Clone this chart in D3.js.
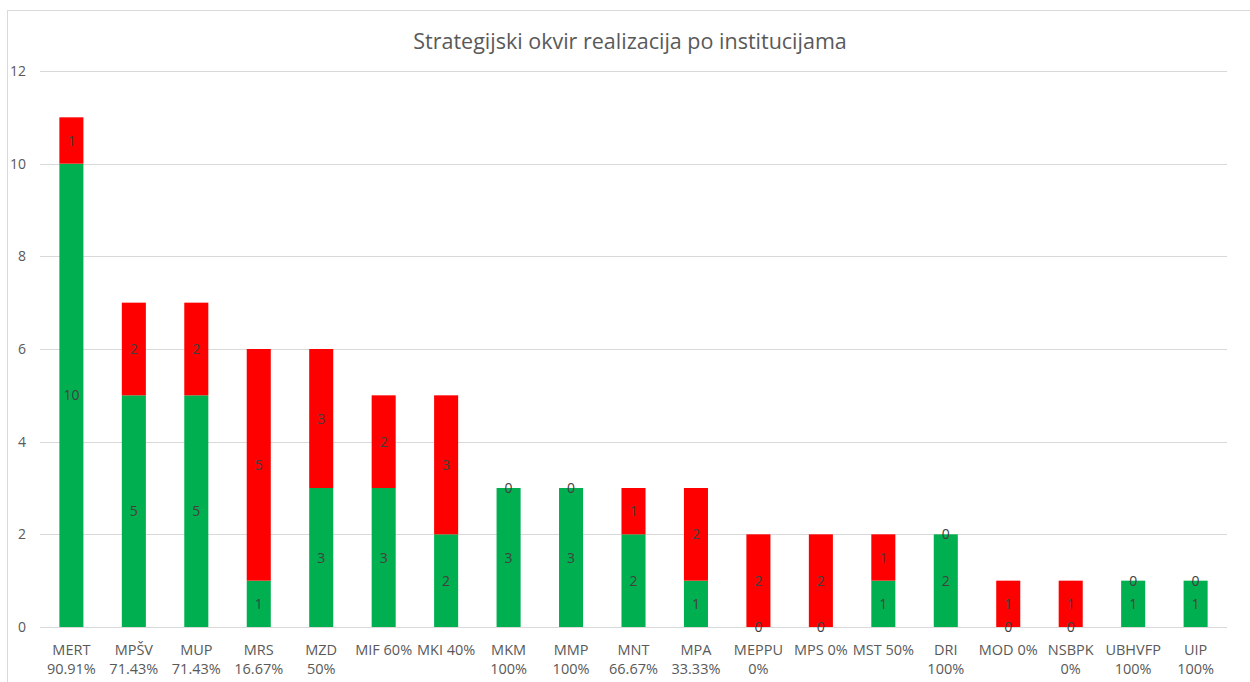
<!DOCTYPE html>
<html><head><meta charset="utf-8">
<script src="https://cdn.jsdelivr.net/npm/d3@7"></script>
<style>body{margin:0;background:#fff}svg{display:block}</style>
</head><body>
<script>
const categories = [
  ["MERT","90.91%"],["MPŠV","71.43%"],["MUP","71.43%"],["MRS","16.67%"],["MZD","50%"],
  ["MIF 60%"],["MKI 40%"],["MKM","100%"],["MMP","100%"],["MNT","66.67%"],["MPA","33.33%"],
  ["MEPPU","0%"],["MPS 0%"],["MST 50%"],["DRI","100%"],["MOD 0%"],["NSBPK","0%"],["UBHVFP","100%"],["UIP","100%"]
];
const realized =    [10,5,5,1,3,3,2,3,3,2,1,0,0,1,2,0,0,1,1];
const notRealized = [1,2,2,5,3,2,3,0,0,1,2,2,2,1,0,1,1,0,0];
const yTicks = [0,2,4,6,8,10,12];
const title = "Strategijski okvir realizacija po institucijama";

const W = 1250, H = 682;
const svg = d3.select("body").append("svg").attr("width", W).attr("height", H);
const font = "'Open Sans', 'Liberation Sans', sans-serif";

// chart border
svg.append("rect").attr("x", 7.5).attr("y", 10.5).attr("width", W).attr("height", H)
  .attr("fill", "none").attr("stroke", "#d9d9d9");

const x = d3.scaleBand().domain(d3.range(categories.length)).range([40, 1227]).paddingInner(0.615).paddingOuter(0.31);
const y = d3.scaleLinear().domain([0, 12]).range([627, 71]);

// grid
svg.append("g").selectAll("line").data(yTicks).join("line")
  .attr("x1", 40).attr("x2", 1227).attr("y1", d => Math.round(y(d)) + 0.5).attr("y2", d => Math.round(y(d)) + 0.5)
  .attr("stroke", "#d9d9d9").attr("stroke-width", 1);

// y axis labels
const yAxis = svg.append("g").attr("transform", "translate(26,0)")
  .call(d3.axisLeft(y).tickValues(yTicks).tickSize(0).tickPadding(0));
yAxis.select(".domain").remove();
yAxis.selectAll("text").attr("font-family", font).attr("font-size", 14).attr("fill", "#595959");

// title
svg.append("text").attr("x", 630).attr("y", 49).attr("text-anchor", "middle")
  .attr("font-family", font).attr("font-size", 21.5).attr("fill", "#595959").text(title);

const idx = d3.range(categories.length);
// green
svg.append("g").selectAll("rect").data(idx).join("rect")
  .attr("x", i => x(i)).attr("width", x.bandwidth())
  .attr("y", i => y(realized[i])).attr("height", i => y(0) - y(realized[i]))
  .attr("fill", "#00B050");
// red
svg.append("g").selectAll("rect").data(idx).join("rect")
  .attr("x", i => x(i)).attr("width", x.bandwidth())
  .attr("y", i => y(realized[i] + notRealized[i])).attr("height", i => y(realized[i]) - y(realized[i] + notRealized[i]))
  .attr("fill", "#FF0000");

// value labels
const lbl = svg.append("g").attr("font-family", font).attr("font-size", 14).attr("fill", "#404040").attr("text-anchor", "middle");
lbl.selectAll("text.g").data(idx).join("text").attr("class", "g")
  .attr("x", i => x(i) + x.bandwidth() / 2).attr("y", i => y(realized[i] / 2) + 5)
  .text(i => realized[i]);
lbl.selectAll("text.r").data(idx).join("text").attr("class", "r")
  .attr("x", i => x(i) + x.bandwidth() / 2).attr("y", i => y(realized[i] + notRealized[i] / 2) + 5)
  .text(i => notRealized[i]);

// category labels
const cat = svg.append("g").attr("font-family", font).attr("font-size", 14.5).attr("fill", "#595959").attr("text-anchor", "middle");
idx.forEach(i => {
  const t = cat.append("text").attr("x", x(i) + x.bandwidth() / 2).attr("y", 655);
  categories[i].forEach((line, k) => {
    t.append("tspan").attr("x", x(i) + x.bandwidth() / 2).attr("dy", k === 0 ? 0 : 19).text(line);
  });
});
</script>
</body></html>
